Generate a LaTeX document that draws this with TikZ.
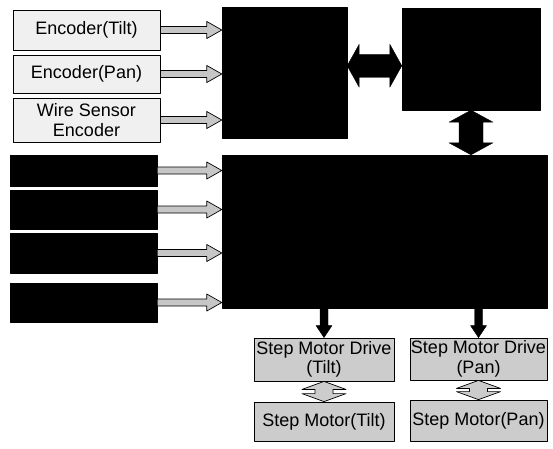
\documentclass[tikz,border=0pt]{standalone}
\usepackage{fontspec}
\setmainfont{Liberation Sans}
\usetikzlibrary{calc}
\tikzset{
  arr s/.store in=\arrS, arr w/.store in=\arrW, arr h/.store in=\arrH,
  arr s=3.5pt, arr w=8.5pt, arr h=15pt,
  box/.style={draw=black,line width=.8pt,fill=gray!12,inner sep=0pt,align=center,
    font=\fontsize{18}{19.5}\selectfont},
  darkbox/.style={box,fill=gray!40},
  blk/.style={draw=black,fill=black,inner sep=0pt},
  inarrow/.style={draw=black,line width=.7pt,fill=gray!45,fat right},
  % single arrow to the right, at the height of the start
  fat right/.style={to path={let \p1=(\tikztostart),\p2=(\tikztotarget) in
    (\x1,\y1+\arrS) -- (\x2-\arrH,\y1+\arrS) -- (\x2-\arrH,\y1+\arrW) -- (\x2,\y1)
    -- (\x2-\arrH,\y1-\arrW) -- (\x2-\arrH,\y1-\arrS) -- (\x1,\y1-\arrS) -- cycle}},
  % single arrow downwards
  fat down/.style={to path={let \p1=(\tikztostart),\p2=(\tikztotarget) in
    (\x1-\arrS,\y1) -- (\x1-\arrS,\y2+\arrH) -- (\x1-\arrW,\y2+\arrH) -- (\x1,\y2)
    -- (\x1+\arrW,\y2+\arrH) -- (\x1+\arrS,\y2+\arrH) -- (\x1+\arrS,\y1) -- cycle}},
  % double arrow, left--right, at the mean height
  fat lr/.style={to path={let \p1=(\tikztostart),\p2=(\tikztotarget),
    \p3=($(\p1)!.5!(\p2)$) in
    (\x1,\y3) -- (\x1+\arrH,\y3+\arrW) -- (\x1+\arrH,\y3+\arrS) -- (\x2-\arrH,\y3+\arrS)
    -- (\x2-\arrH,\y3+\arrW) -- (\x2,\y3) -- (\x2-\arrH,\y3-\arrW) -- (\x2-\arrH,\y3-\arrS)
    -- (\x1+\arrH,\y3-\arrS) -- (\x1+\arrH,\y3-\arrW) -- cycle}},
  % double arrow, up--down
  fat ud/.style={to path={let \p1=(\tikztostart),\p2=(\tikztotarget) in
    (\x1,\y1) -- (\x1+\arrW,\y1-\arrH) -- (\x1+\arrS,\y1-\arrH) -- (\x1+\arrS,\y2+\arrH)
    -- (\x1+\arrW,\y2+\arrH) -- (\x1,\y2) -- (\x1-\arrW,\y2+\arrH) -- (\x1-\arrS,\y2+\arrH)
    -- (\x1-\arrS,\y1-\arrH) -- (\x1-\arrW,\y1-\arrH) -- cycle}},
}
\begin{document}
\begin{tikzpicture}[x=1pt,y=-1pt,line join=round]
  \useasboundingbox (0,0) rectangle (553,448);
  % sensors
  \node[box,minimum width=147pt,minimum height=40pt] (encT) at (86.5,30) {Encoder(Tilt)};
  \node[box,minimum width=147pt,minimum height=38pt] (encP) at (86.5,74) {Encoder(Pan)};
  \node[box,minimum width=147pt,minimum height=44pt] (wire) at (86.5,120) {Wire Sensor\\Encoder};
  % hidden inputs
  \node[blk,minimum width=147pt,minimum height=31pt] (in1) at (83.5,170.5) {};
  \node[blk,minimum width=147pt,minimum height=39pt] (in2) at (83.5,209.5) {};
  \node[blk,minimum width=147pt,minimum height=40pt] (in3) at (83.5,253) {};
  \node[blk,minimum width=147pt,minimum height=39pt] (in4) at (83.5,302.5) {};
  % main blocks
  \node[blk,minimum width=125pt,minimum height=131pt] (A) at (284.5,72.5) {};
  \node[blk,minimum width=138pt,minimum height=102pt] (B) at (471,59) {};
  \node[blk,minimum width=325pt,minimum height=153pt] (C) at (384.5,231.5) {};
  % motor side
  \node[darkbox,minimum width=140pt,minimum height=43pt] (drvT) at (324,359.5) {Step Motor Drive\\(Tilt)};
  \node[darkbox,minimum width=137pt,minimum height=42pt] (drvP) at (478.5,359) {Step Motor Drive\\(Pan)};
  \node[darkbox,minimum width=140pt,minimum height=39pt] (motT) at (324,421.5) {Step Motor(Tilt)};
  \node[darkbox,minimum width=137pt,minimum height=41pt] (motP) at (478.5,420.5) {Step Motor(Pan)};
  % input arrows
  \foreach \s in {encT,encP,wire}
    \draw[inarrow] (\s.east) to (\s.east -| A.west);
  \foreach \s in {in1,in2,in3,in4}
    \draw[inarrow] (\s.east) to (\s.east -| C.west);
  % links between blocks
  \draw[fill=black,fat lr,arr s=11.5pt,arr w=21.5pt,arr h=12pt] (A.east) to (B.west);
  \draw[fill=black,fat ud,arr s=12pt,arr w=22pt,arr h=12pt] (B.south) to (B.south |- C.north);
  \draw[fill=black,fat down,arr s=4pt,arr w=8pt,arr h=12pt] (C.south -| drvT.north) to (drvT.north);
  \draw[fill=black,fat down,arr s=4pt,arr w=8pt,arr h=12pt] (C.south -| drvP.north) to (drvP.north);
  \draw[line width=.7pt,fill=gray!40,fat ud,arr s=9pt,arr w=22pt,arr h=8pt] (drvT.south) to (motT.north);
  \draw[line width=.7pt,fill=gray!40,fat ud,arr s=9pt,arr w=22pt,arr h=8pt] (drvP.south) to (motP.north);
\end{tikzpicture}
\end{document}
